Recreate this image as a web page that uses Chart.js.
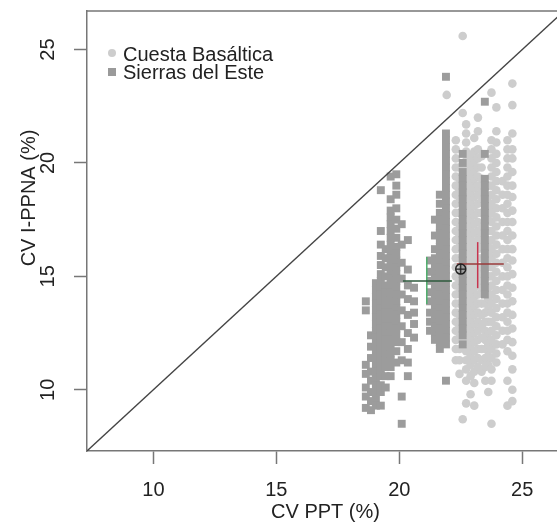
<!DOCTYPE html>
<html>
<head>
<meta charset="utf-8">
<script src="https://cdn.jsdelivr.net/npm/chart.js@4.4.1/dist/chart.umd.min.js"></script>
<style>
  html, body { margin: 0; padding: 0; background: #fff; overflow: hidden; }
  #wrap { width: 557px; height: 522px; overflow: hidden; }
</style>
</head>
<body>
<div id="wrap"><canvas id="graph" width="576" height="522"></canvas></div>
<script>
// ticks y rangos de los ejes
const xTicks = [10, 15, 20, 25];
const yTicks = [10, 15, 20, 25];
const axisRange = [7.3, 26.7];

// Sierras del Este: columnas (x) con sus valores de CV I-PPNA
const sierrasX = [18.64, 18.85, 19.05, 19.25, 19.45, 19.65, 19.88, 20.1, 20.35, 20.6, 21.25, 21.45, 21.65, 21.9, 22.58, 23.48];
const sierrasY = [
  [13.9, 13.5, 11.1, 10.7, 10.1, 9.7, 9.2],
  [12.4, 11.9, 11.4, 10.8, 10.4, 9.9, 9.5, 9.1],
  [14.7, 14.4, 14.1, 13.8, 13.5, 13.2, 12.9, 12.6, 12.3, 12.0, 11.7, 11.4, 11.1, 10.8, 10.5, 10.2, 9.9, 9.6, 9.3],
  [18.8, 17.0, 16.4, 15.9, 15.5, 15.1, 14.8, 14.5, 14.2, 13.9, 13.6, 13.3, 13.0, 12.7, 12.4, 12.1, 11.8, 11.5, 11.2, 10.9, 10.6, 10.2, 9.9, 9.3],
  [16.2, 15.8, 15.4, 15.0, 14.6, 14.3, 14.0, 13.7, 13.4, 13.1, 12.8, 12.5, 12.2, 11.9, 11.6, 11.3, 11.0, 10.6, 10.1],
  [19.4, 18.4, 17.9, 17.6, 17.3, 17.0, 16.7, 16.4, 16.1, 15.8, 15.5, 15.2, 14.9, 14.6, 14.3, 14.0, 13.7, 13.4, 13.1, 12.8, 12.5, 12.2, 11.9, 11.6, 11.3, 11.0, 10.6],
  [19.5, 19.0, 18.6, 18.0, 17.5, 17.1, 16.7, 16.3, 16.0, 15.7, 15.4, 15.1, 14.8, 14.5, 14.2, 13.9, 13.6, 13.3, 13.0, 12.7, 12.4, 12.1, 11.7, 11.2],
  [17.3, 16.4, 15.6, 14.9, 14.2, 13.5, 12.8, 12.1, 11.3, 9.7, 8.5],
  [16.6, 15.3, 14.6, 14.0, 13.3, 12.5, 11.8, 11.2, 10.6],
  [14.5, 13.9, 13.4, 12.9, 12.3],
  [15.7, 15.2, 14.8, 14.3, 13.9, 13.4, 13.0, 12.6],
  [17.5, 16.8, 16.2, 15.8, 15.5, 15.2, 14.9, 14.6, 14.3, 14.0, 13.7, 13.4, 13.1, 12.8, 12.5, 12.2],
  [18.6, 18.2, 17.8, 17.5, 17.2, 16.9, 16.6, 16.3, 16.0, 15.7, 15.4, 15.1, 14.8, 14.5, 14.2, 13.9, 13.6, 13.3, 13.0, 12.7, 12.4, 12.1, 11.8],
  [23.8, 21.3, 21.0, 20.7, 20.4, 20.1, 19.8, 19.5, 19.2, 18.9, 18.6, 18.3, 18.0, 17.7, 17.4, 17.1, 16.8, 16.5, 16.2, 15.9, 15.6, 15.3, 15.0, 14.7, 14.4, 14.1, 13.8, 13.5, 13.2, 12.9, 12.6, 12.3, 12.0, 10.4],
  [20.4, 20.0, 19.6, 19.3, 19.0, 18.7, 18.4, 18.1, 17.8, 17.5, 17.2, 16.9, 16.6, 16.3, 16.0, 15.7, 15.4, 15.1, 14.8, 14.5, 14.2, 13.9, 13.6, 13.3, 13.0, 12.7, 12.4, 12.0],
  [22.7, 20.4, 19.3, 19.0, 18.7, 18.4, 18.1, 17.8, 17.5, 17.2, 16.9, 16.6, 16.3, 16.0, 15.7, 15.4, 15.1, 14.8, 14.5, 14.2]
];

// Cuesta Basáltica
const cuestaX = [21.93, 22.3, 22.45, 22.58, 22.72, 22.9, 23.05, 23.2, 23.35, 23.5, 23.62, 23.75, 23.95, 24.2, 24.4, 24.6];
const cuestaY = [
  [23.0],
  [21.0, 20.6, 20.2, 19.8, 19.4, 19.0, 18.6, 18.2, 17.8, 17.4, 17.0, 16.6, 16.2, 15.8, 15.4, 15.0, 14.6, 14.2, 13.8, 13.4, 13.0, 12.6, 12.2, 11.8, 11.3],
  [19.8, 19.3, 18.8, 18.3, 17.8, 17.3, 16.8, 16.3, 15.8, 15.3, 14.8, 14.3, 13.8, 13.3, 12.8, 12.3, 11.8, 11.3, 10.7],
  [25.6, 22.2, 8.7],
  [21.7, 21.3, 20.9, 20.5, 20.1, 19.7, 19.3, 18.9, 18.5, 18.1, 17.7, 17.3, 16.9, 16.5, 16.1, 15.7, 15.3, 14.9, 14.5, 14.1, 13.7, 13.3, 12.9, 12.5, 12.1, 11.7, 11.3, 10.9, 10.4, 9.4],
  [20.3, 19.9, 19.5, 19.1, 18.7, 18.3, 17.9, 17.5, 17.1, 16.7, 16.3, 15.9, 15.5, 15.1, 14.7, 14.3, 13.9, 13.5, 13.1, 12.7, 12.3, 11.9, 11.5, 11.1, 10.6, 9.8],
  [21.1, 20.5, 20.1, 19.7, 19.3, 18.9, 18.5, 18.1, 17.7, 17.3, 16.9, 16.5, 16.1, 15.7, 15.3, 14.9, 14.5, 14.1, 13.7, 13.3, 12.9, 12.5, 12.1, 11.7, 11.3, 10.8, 10.3, 9.3],
  [22.0, 21.4, 20.6, 20.2, 19.8, 19.4, 19.0, 18.6, 18.2, 17.8, 17.4, 17.0, 16.6, 16.2, 15.8, 15.4, 15.0, 14.6, 14.2, 13.8, 13.4, 13.0, 12.6, 12.2, 11.8, 11.4, 11.0],
  [20.3, 19.8, 19.3, 18.8, 18.3, 17.8, 17.3, 16.8, 16.3, 15.8, 15.3, 14.8, 14.3, 13.8, 13.3, 12.8, 12.3, 11.8, 11.3, 10.8],
  [13.8, 13.4, 13.0, 12.6, 12.2, 11.8, 11.4, 11.0, 10.4],
  [19.0, 18.5, 18.0, 17.5, 17.0, 16.5, 16.0, 15.5, 15.0, 14.5, 14.0, 13.5, 13.0, 12.5, 12.0, 11.5, 11.1, 9.9],
  [23.1, 21.0, 20.6, 20.2, 19.8, 19.4, 19.0, 18.6, 18.2, 17.8, 17.4, 17.0, 16.6, 16.2, 15.8, 15.4, 15.0, 14.6, 14.2, 13.8, 13.4, 13.0, 12.6, 12.2, 11.8, 11.4, 10.9, 10.4, 8.5],
  [22.45, 21.4, 20.9, 20.4, 20.0, 19.6, 19.2, 18.8, 18.4, 18.0, 17.6, 17.2, 16.8, 16.4, 16.0, 15.6, 15.2, 14.8, 14.4, 14.0, 13.6, 13.2, 12.8, 12.4, 12.0, 11.6, 11.2],
  [19.2, 18.6, 18.0, 17.4, 16.8, 16.2, 15.6, 15.0, 14.4, 13.8, 13.2, 12.6, 12.0],
  [21.0, 20.6, 20.2, 19.8, 19.4, 19.0, 18.6, 18.2, 17.8, 17.4, 17.0, 16.6, 16.2, 15.8, 15.4, 15.0, 14.6, 14.2, 13.8, 13.4, 13.0, 12.6, 12.2, 11.7, 10.4, 9.3],
  [23.5, 22.55, 21.3, 20.6, 20.2, 19.6, 19.0, 18.5, 17.9, 17.4, 16.8, 16.2, 15.7, 15.1, 14.5, 13.9, 13.3, 12.7, 12.1, 11.5, 10.9, 10.0, 9.5]
];

// medias y rangos (cruces)
const sierrasMean = [21.12, 14.79];
const sierrasXRange = [20.15, 22.14];
const sierrasYRange = [13.78, 15.85];
const cuestaMean = [23.19, 15.54];
const cuestaXRange = [22.34, 24.25];
const cuestaYRange = [14.48, 16.51];
const overallMean = [22.5, 15.32];

const legendLabels = ['Cuesta Basáltica', 'Sierras del Este'];
const FONT = '"Liberation Sans", Arial, Helvetica, sans-serif';

function toPoints(xs, ys) {
  const pts = [];
  xs.forEach((x, i) => ys[i].forEach((y) => pts.push({ x: x, y: y })));
  return pts;
}

const labelsPlugin = {
  id: 'rLabels',
  afterDraw(chart) {
    const ctx = chart.ctx;
    const xs = chart.scales.x;
    const ys = chart.scales.y;
    const area = chart.chartArea;
    ctx.save();
    // marco superior y derecho
    ctx.strokeStyle = '#777';
    ctx.lineWidth = 1.5;
    ctx.beginPath();
    ctx.moveTo(area.left, area.top);
    ctx.lineTo(area.right, area.top);
    ctx.lineTo(area.right, area.bottom);
    ctx.stroke();

    ctx.fillStyle = '#222';
    ctx.font = '20px ' + FONT;
    ctx.textAlign = 'center';
    ctx.textBaseline = 'middle';
    xTicks.forEach((v) => ctx.fillText(String(v), xs.getPixelForValue(v), 490));
    ctx.fillText('CV PPT (%)', (area.left + area.right) / 2, 512);

    yTicks.forEach((v) => {
      ctx.save();
      ctx.translate(48, ys.getPixelForValue(v));
      ctx.rotate(-Math.PI / 2);
      ctx.fillText(String(v), 0, 0);
      ctx.restore();
    });
    ctx.save();
    ctx.translate(29, 198);
    ctx.rotate(-Math.PI / 2);
    ctx.fillText('CV I-PPNA (%)', 0, 0);
    ctx.restore();

    // leyenda
    ctx.textAlign = 'left';
    ctx.fillStyle = '#cdcdcd';
    ctx.beginPath();
    ctx.arc(112, 53, 4, 0, Math.PI * 2);
    ctx.fill();
    ctx.fillStyle = '#9a9a9a';
    ctx.fillRect(108, 68, 8, 8);
    ctx.fillStyle = '#222';
    ctx.fillText(legendLabels[0], 123, 55);
    ctx.fillText(legendLabels[1], 123, 73);
    ctx.restore();
  }
};

function cross(xr, yr, mean, hColor, vColor, order) {
  return [
    { data: [{ x: xr[0], y: mean[1] }, { x: xr[1], y: mean[1] }], showLine: true, borderColor: hColor, borderWidth: 1.5, pointRadius: 0, order: order },
    { data: [{ x: mean[0], y: yr[0] }, { x: mean[0], y: yr[1] }], showLine: true, borderColor: vColor, borderWidth: 1.5, pointRadius: 0, order: order }
  ];
}

const ctx = document.getElementById('graph').getContext('2d');

const chart = new Chart(ctx, {
  type: 'scatter',
  data: {
    datasets: [
      {
        label: legendLabels[0],
        data: toPoints(cuestaX, cuestaY),
        pointStyle: 'circle',
        pointRadius: 4.3,
        backgroundColor: '#cdcdcd',
        borderWidth: 0,
        order: 6,
      },
      {
        label: legendLabels[1],
        data: toPoints(sierrasX, sierrasY),
        pointStyle: 'rect',
        pointRadius: 5.6,
        backgroundColor: '#9c9c9c',
        borderWidth: 0,
        order: 5,
      },
      {
        data: axisRange.map((v) => ({ x: v, y: v })),
        showLine: true,
        borderColor: '#444',
        borderWidth: 1.3,
        pointRadius: 0,
        order: 4,
      },
      ...cross(sierrasXRange, sierrasYRange, sierrasMean, '#2e5a3c', '#4fae6c', 3),
      ...cross(cuestaXRange, cuestaYRange, cuestaMean, '#9a3b3b', '#c8344e', 3),
      {
        data: [{ x: overallMean[0], y: overallMean[1] }],
        pointStyle: 'circle',
        pointRadius: 5,
        backgroundColor: 'rgba(0,0,0,0)',
        borderColor: '#222',
        borderWidth: 1.5,
        order: 1,
      },
      {
        data: [{ x: overallMean[0], y: overallMean[1] }],
        pointStyle: 'cross',
        pointRadius: 5,
        borderColor: '#222',
        borderWidth: 1.2,
        order: 1,
      },
    ],
  },
  options: {
    responsive: false,
    animation: false,
    events: [],
    layout: { padding: { top: 11, right: 12, left: 0, bottom: 0 } },
    plugins: { legend: { display: false }, tooltip: { enabled: false } },
    scales: {
      x: {
        type: 'linear',
        min: axisRange[0],
        max: axisRange[1],
        afterBuildTicks: (s) => { s.ticks = xTicks.map((v) => ({ value: v })); },
        afterFit: (s) => { s.height = 71; },
        ticks: { display: false },
        grid: { drawOnChartArea: false, drawTicks: true, tickLength: 13, tickColor: '#777', tickWidth: 1.5 },
        border: { display: true, color: '#777', width: 1.5 },
      },
      y: {
        type: 'linear',
        min: axisRange[0],
        max: axisRange[1],
        afterBuildTicks: (s) => { s.ticks = yTicks.map((v) => ({ value: v })); },
        afterFit: (s) => { s.width = 87; },
        ticks: { display: false },
        grid: { drawOnChartArea: false, drawTicks: true, tickLength: 13, tickColor: '#777', tickWidth: 1.5 },
        border: { display: true, color: '#777', width: 1.5 },
      },
    },
  },
  plugins: [labelsPlugin],
});
</script>
</body>
</html>
